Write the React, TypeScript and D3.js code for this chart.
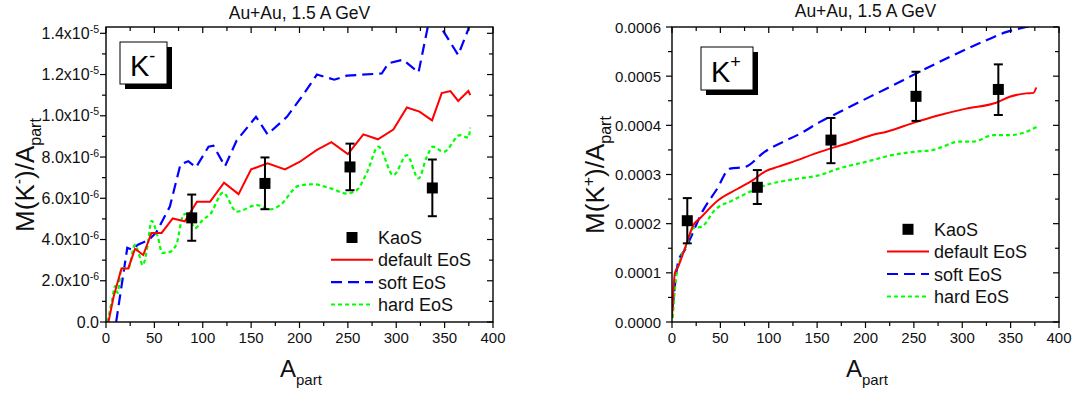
import React from "react";
import * as d3 from "d3";

const FONT = "Arial, 'Liberation Sans', Helvetica, sans-serif";

// ---------- K- panel (values in units of 1e-6) ----------
const KM_DEFAULT_A = [2.5, 8, 16, 23, 30, 38.5, 47, 57.5, 69, 81.5, 94, 107.5, 122, 137, 150, 167, 185, 200, 218, 233, 250, 266, 281, 297, 311, 324, 337, 347, 356, 364, 374.5, 376.5];
const KM_DEFAULT_V = [0, 1.25, 2.6, 2.6, 3.55, 3.25, 4.32, 4.32, 5.02, 4.88, 5.83, 5.83, 6.76, 6.2, 7.4, 7.7, 7.4, 7.76, 8.35, 8.72, 8.14, 9.1, 8.86, 9.33, 10.4, 10.2, 9.78, 11.1, 11.2, 10.72, 11.2, 11.0];

const KM_SOFT_A = [10.5, 22, 27, 33, 44, 52, 66, 77, 85, 93, 106, 111, 123, 135, 155, 167, 187, 202, 218, 236, 249, 285, 292, 307, 323, 333, 341, 348, 364, 374.5, 378];
const KM_SOFT_V = [0, 3.6, 3.5, 3.75, 3.97, 4.35, 5.6, 7.65, 7.8, 7.5, 8.5, 8.55, 7.55, 8.8, 9.95, 9.1, 9.95, 10.9, 12.0, 11.75, 11.95, 12.05, 12.55, 12.72, 12.1, 14.4, 14.6, 14.15, 12.95, 14.2, 15.0];

const KM_HARD_A = [1.5, 6, 9.5, 12, 16, 23, 30, 34, 38, 43, 47, 54, 58, 66, 73, 80, 84, 92, 100, 108, 121, 135, 156, 169, 180, 199, 214, 233, 249, 259, 270, 281.5, 297, 311, 323, 331.5, 338, 349, 366, 374.5, 376.5];
const KM_HARD_V = [0, 1.0, 1.75, 1.4, 2.6, 2.6, 3.75, 3.3, 2.75, 3.7, 4.9, 4.05, 3.35, 3.4, 3.8, 5.2, 5.25, 4.55, 4.95, 5.25, 6.27, 5.35, 5.67, 5.46, 5.67, 6.6, 6.68, 6.47, 6.23, 6.39, 7.28, 8.5, 7.12, 8.09, 6.96, 8.0, 8.5, 8.25, 9.06, 8.94, 9.43];

const KM_KAOS_A = [88.6, 164.3, 252.2, 337.3];
const KM_KAOS_V = [5.05, 6.72, 7.52, 6.5];
const KM_KAOS_HI = [6.18, 7.98, 8.65, 7.88];
const KM_KAOS_LO = [3.94, 5.47, 6.39, 5.13];

const KM_Y_TICKS = [0, 2, 4, 6, 8, 10, 12, 14];
const KM_Y_MANT = ["0.0", "2.0x10", "4.0x10", "6.0x10", "8.0x10", "1.0x10", "1.2x10", "1.4x10"];
const KM_Y_EXP = ["", "-6", "-6", "-6", "-6", "-5", "-5", "-5"];
const KM_Y_MINOR = [1, 3, 5, 7, 9, 11, 13];
const KM_Y_MAX = 14.306;

// ---------- K+ panel (values in units of 1e-4) ----------
const KP_DEFAULT_A = [0, 3, 6.5, 13.4, 22, 29, 48, 67, 84, 96, 110, 122, 153, 187, 206, 222, 249.5, 277, 304, 335, 349, 366, 373.5, 376.5];
const KP_DEFAULT_V = [0.08, 0.995, 1.13, 1.5, 1.97, 2.11, 2.48, 2.7, 2.89, 3.06, 3.16, 3.24, 3.46, 3.67, 3.8, 3.87, 4.05, 4.21, 4.34, 4.46, 4.58, 4.65, 4.66, 4.77];

const KP_SOFT_A = [0.7, 6.5, 13.4, 32.4, 46, 60, 75, 95, 136, 153, 163, 187, 222, 256, 291, 325, 346, 366, 378];
const KP_SOFT_V = [0.28, 1.23, 1.47, 2.28, 2.69, 3.12, 3.15, 3.45, 3.87, 4.07, 4.17, 4.41, 4.75, 5.09, 5.43, 5.73, 5.9, 6.0, 6.05];

const KP_HARD_A = [0.7, 4.1, 8.3, 15.2, 22, 30.7, 44.4, 63.4, 80.6, 97.8, 122, 153, 174, 201, 229, 249.5, 270, 298, 311.5, 332, 349, 370, 377];
const KP_HARD_V = [0.08, 0.89, 1.26, 1.57, 1.91, 1.94, 2.28, 2.48, 2.65, 2.79, 2.89, 2.99, 3.13, 3.26, 3.4, 3.46, 3.5, 3.67, 3.67, 3.8, 3.8, 3.9, 3.97];

const KP_KAOS_A = [15.8, 88.2, 164.3, 252.2, 337.3];
const KP_KAOS_V = [2.06, 2.74, 3.7, 4.59, 4.73];
const KP_KAOS_HI = [2.52, 3.09, 4.15, 5.09, 5.24];
const KP_KAOS_LO = [1.6, 2.4, 3.23, 4.09, 4.21];

const KP_Y_TICKS = [0, 1, 2, 3, 4, 5, 6];
const KP_Y_MANT = ["0.0000", "0.0001", "0.0002", "0.0003", "0.0004", "0.0005", "0.0006"];
const KP_Y_EXP = ["", "", "", "", "", "", ""];
const KP_Y_MINOR = [0.5, 1.5, 2.5, 3.5, 4.5, 5.5];
const KP_Y_MAX = 6;

const X_TICKS = [0, 50, 100, 150, 200, 250, 300, 350, 400];
const X_MINOR = [25, 75, 125, 175, 225, 275, 325, 375];

const TITLE = "Au+Au, 1.5 A GeV";
const LEGEND = ["KaoS", "default EoS", "soft EoS", "hard EoS"];

const RED = "#ff0000";
const BLUE = "#0000ff";
const GREEN = "#00ff00";
const BLUE_DASH = "11,6";
const GREEN_DASH = "4,3";

type Cfg = {
  id: string;
  left: number;
  right: number;
  yMax: number;
  yTicks: number[];
  yMant: string[];
  yExp: string[];
  yMinor: number[];
  labelGap: number;
  labelSize: number;
  defA: number[]; defV: number[];
  softA: number[]; softV: number[];
  hardA: number[]; hardV: number[];
  kA: number[]; kV: number[]; kHi: number[]; kLo: number[];
  sign: string;
  box: { x: number; y: number; w: number; h: number };
  legend: { rows: number[]; l0: number; l1: number; tx: number };
  titleY: number;
  ylabX: number;
  xlabX: number;
  smoothModel: boolean;
};

const TOP = 27;
const BOT = 322;

function Panel({ cfg }: { cfg: Cfg }) {
  const x = d3.scaleLinear().domain([0, 400]).range([cfg.left, cfg.right]);
  const y = d3.scaleLinear().domain([0, cfg.yMax]).range([BOT, TOP]);
  const lin = d3
    .line<[number, number]>()
    .x((d) => x(d[0]))
    .y((d) => y(d[1]));
  const smooth = d3
    .line<[number, number]>()
    .x((d) => x(d[0]))
    .y((d) => y(d[1]))
    .curve(d3.curveMonotoneX);
  const defLine = cfg.smoothModel ? smooth : lin;
  const def = defLine(d3.zip(cfg.defA, cfg.defV) as [number, number][]) || "";
  const soft = defLine(d3.zip(cfg.softA, cfg.softV) as [number, number][]) || "";
  const hard = smooth(d3.zip(cfg.hardA, cfg.hardV) as [number, number][]) || "";
  const clipId = "clip-" + cfg.id;
  const major = 6;
  const minor = 4;
  const cx = (cfg.left + cfg.right) / 2;
  const { box, legend } = cfg;

  return (
    <g>
      <defs>
        <clipPath id={clipId}>
          <rect x={cfg.left} y={TOP} width={cfg.right - cfg.left} height={BOT - TOP} />
        </clipPath>
      </defs>
      {/* title */}
      <text x={cx} y={cfg.titleY} textAnchor="middle" fontSize={17.5} fill="#111">
        {TITLE}
      </text>

      {/* curves */}
      <g clipPath={`url(#${clipId})`} fill="none">
        <path d={soft} stroke={BLUE} strokeWidth={2.2} strokeDasharray={BLUE_DASH} />
        <path d={hard} stroke={GREEN} strokeWidth={2.2} strokeDasharray={GREEN_DASH} />
        <path d={def} stroke={RED} strokeWidth={2} />
      </g>

      {/* KaoS data */}
      {cfg.kA.map((a, i) => (
        <g key={"k" + i} stroke="#000" strokeWidth={2}>
          <line x1={x(a)} x2={x(a)} y1={y(cfg.kHi[i])} y2={y(cfg.kLo[i])} />
          <line x1={x(a) - 4.5} x2={x(a) + 4.5} y1={y(cfg.kHi[i])} y2={y(cfg.kHi[i])} />
          <line x1={x(a) - 4.5} x2={x(a) + 4.5} y1={y(cfg.kLo[i])} y2={y(cfg.kLo[i])} />
          <rect x={x(a) - 5.5} y={y(cfg.kV[i]) - 5.5} width={11} height={11} fill="#000" stroke="none" />
        </g>
      ))}

      {/* frame */}
      <rect x={cfg.left} y={TOP} width={cfg.right - cfg.left} height={BOT - TOP} fill="none" stroke="#000" strokeWidth={1.4} />

      {/* x ticks */}
      {X_TICKS.map((t) => (
        <g key={"xt" + t} stroke="#000" strokeWidth={1.2}>
          <line x1={x(t)} x2={x(t)} y1={BOT} y2={BOT + major} />
          <line x1={x(t)} x2={x(t)} y1={TOP} y2={TOP + major} />
        </g>
      ))}
      {X_MINOR.map((t) => (
        <g key={"xm" + t} stroke="#000" strokeWidth={1.2}>
          <line x1={x(t)} x2={x(t)} y1={BOT} y2={BOT + minor} />
          <line x1={x(t)} x2={x(t)} y1={TOP} y2={TOP + minor} />
        </g>
      ))}
      {X_TICKS.map((t) => (
        <text key={"xl" + t} x={x(t)} y={343} textAnchor="middle" fontSize={15} fill="#111">
          {t}
        </text>
      ))}

      {/* y ticks */}
      {cfg.yTicks.map((t) => (
        <g key={"yt" + t} stroke="#000" strokeWidth={1.2}>
          <line x1={cfg.left - major} x2={cfg.left} y1={y(t)} y2={y(t)} />
          <line x1={cfg.right - major} x2={cfg.right} y1={y(t)} y2={y(t)} />
        </g>
      ))}
      {cfg.yMinor.map((t) => (
        <g key={"ym" + t} stroke="#000" strokeWidth={1.2}>
          <line x1={cfg.left - minor} x2={cfg.left} y1={y(t)} y2={y(t)} />
          <line x1={cfg.right - minor} x2={cfg.right} y1={y(t)} y2={y(t)} />
        </g>
      ))}
      {cfg.yTicks.map((t, i) => (
        <text key={"yl" + t} x={cfg.left - cfg.labelGap} y={y(t) + 5.5} textAnchor="end" fontSize={cfg.labelSize} fill="#111">
          {cfg.yMant[i]}
          {cfg.yExp[i] ? (
            <tspan dy={-6} fontSize={10.5}>
              {cfg.yExp[i]}
            </tspan>
          ) : null}
        </text>
      ))}

      {/* axis labels */}
      <text x={cfg.xlabX} y={377} fontSize={24} fill="#111">
        A
        <tspan dy={8} fontSize={15}>
          part
        </tspan>
      </text>
      <text transform={`translate(${cfg.ylabX},175) rotate(-90)`} textAnchor="middle" fontSize={26} fill="#111">
        M(K
        <tspan dy={-10} fontSize={16}>
          {cfg.sign}
        </tspan>
        <tspan dy={10}>)/A</tspan>
        <tspan dy={7} fontSize={16}>
          part
        </tspan>
      </text>

      {/* K box */}
      <rect x={box.x + 5} y={box.y + 5} width={box.w} height={box.h} fill="#000" />
      <rect x={box.x} y={box.y} width={box.w} height={box.h} fill="#fff" stroke="#000" strokeWidth={1} />
      <text x={box.x + 10} y={box.y + box.h - 8} fontSize={29} fill="#000">
        K
        <tspan dy={-14} fontSize={18}>
          {cfg.sign}
        </tspan>
      </text>

      {/* legend */}
      <rect x={(legend.l0 + legend.l1) / 2 - 5.5} y={legend.rows[0] - 5.5} width={11} height={11} fill="#000" />
      <line x1={legend.l0} x2={legend.l1} y1={legend.rows[1]} y2={legend.rows[1]} stroke={RED} strokeWidth={2} />
      <line x1={legend.l0} x2={legend.l1} y1={legend.rows[2]} y2={legend.rows[2]} stroke={BLUE} strokeWidth={2.2} strokeDasharray={BLUE_DASH} />
      <line x1={legend.l0} x2={legend.l1} y1={legend.rows[3]} y2={legend.rows[3]} stroke={GREEN} strokeWidth={2.2} strokeDasharray={GREEN_DASH} />
      {LEGEND.map((s, i) => (
        <text key={"lg" + i} x={legend.tx} y={legend.rows[i] + 6.5} fontSize={18} fill="#111">
          {s}
        </text>
      ))}
    </g>
  );
}

const KM_CFG: Cfg = {
  id: "km",
  left: 106,
  right: 493,
  yMax: KM_Y_MAX,
  yTicks: KM_Y_TICKS,
  yMant: KM_Y_MANT,
  yExp: KM_Y_EXP,
  yMinor: KM_Y_MINOR,
  labelGap: 7,
  labelSize: 16,
  defA: KM_DEFAULT_A, defV: KM_DEFAULT_V,
  softA: KM_SOFT_A, softV: KM_SOFT_V,
  hardA: KM_HARD_A, hardV: KM_HARD_V,
  kA: KM_KAOS_A, kV: KM_KAOS_V, kHi: KM_KAOS_HI, kLo: KM_KAOS_LO,
  sign: "-",
  box: { x: 120, y: 42, w: 47, h: 42 },
  legend: { rows: [237.5, 259.8, 282.2, 304.5], l0: 331, l1: 373, tx: 378 },
  titleY: 19,
  ylabX: 34,
  xlabX: 280,
  smoothModel: false,
};

const KP_CFG: Cfg = {
  id: "kp",
  left: 672,
  right: 1059,
  yMax: KP_Y_MAX,
  yTicks: KP_Y_TICKS,
  yMant: KP_Y_MANT,
  yExp: KP_Y_EXP,
  yMinor: KP_Y_MINOR,
  labelGap: 11,
  labelSize: 15,
  defA: KP_DEFAULT_A, defV: KP_DEFAULT_V,
  softA: KP_SOFT_A, softV: KP_SOFT_V,
  hardA: KP_HARD_A, hardV: KP_HARD_V,
  kA: KP_KAOS_A, kV: KP_KAOS_V, kHi: KP_KAOS_HI, kLo: KP_KAOS_LO,
  sign: "+",
  box: { x: 701, y: 47, w: 52, h: 43 },
  legend: { rows: [229.3, 251.5, 274, 296.5], l0: 887, l1: 929, tx: 934 },
  titleY: 17,
  ylabX: 604,
  xlabX: 846,
  smoothModel: true,
};

export default function App() {
  return (
    <svg
      width={1072}
      height={394}
      style={{ position: "absolute", left: 0, top: 0, background: "#fff" }}
      fontFamily={FONT}
    >
      <rect x={0} y={0} width={1072} height={394} fill="#fff" />
      <Panel cfg={KM_CFG} />
      <Panel cfg={KP_CFG} />
    </svg>
  );
}
